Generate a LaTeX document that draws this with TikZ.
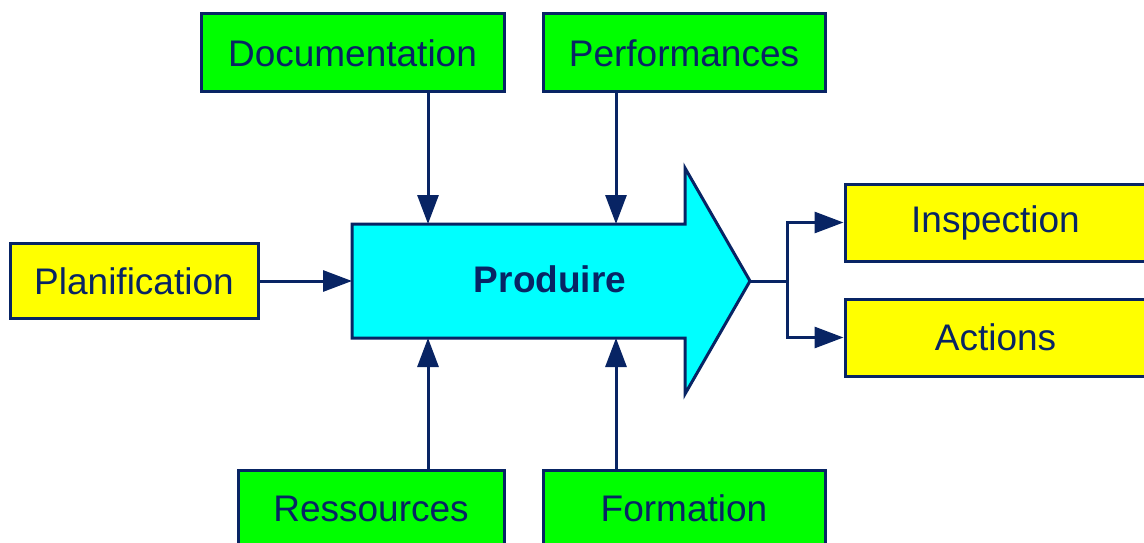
\documentclass[tikz,border=0pt]{standalone}
\usepackage{fontspec}
\setmainfont{Liberation Sans}
\usetikzlibrary{arrows.meta}
\definecolor{navy}{RGB}{8,36,100}
\definecolor{boxgreen}{RGB}{0,255,0}
\definecolor{boxyellow}{RGB}{255,255,0}
\definecolor{prodcyan}{RGB}{0,255,255}
\tikzset{
  base/.style={draw=navy, line width=3pt, rectangle, inner sep=0pt, text=navy,
    font=\fontsize{37}{42}\selectfont},
  gbox/.style={base, fill=boxgreen},
  ybox/.style={base, fill=boxyellow},
  conn/.style={draw=navy, line width=3pt, -{Triangle[length=29pt,width=21pt]}},
  plain/.style={draw=navy, line width=3pt},
}
\begin{document}
\begin{tikzpicture}[x=1pt,y=-1pt]
\useasboundingbox (0,0) rectangle (1144,543);
% main arrow
\draw[plain, fill=prodcyan, line join=miter]
  (352,224) -- (685,224) -- (685,168) -- (750,281) -- (685,394) -- (685,338) -- (352,338) -- cycle;
\node[text=navy, font=\fontsize{37}{42}\selectfont\bfseries] (prod) at (550,279) {Produire};
\coordinate (tip) at (750,281);
\coordinate (dtop) at (428,224);
\coordinate (ptop) at (616,224);
\coordinate (dbot) at (428,338);
\coordinate (pbot) at (616,338);
\coordinate (left) at (352,281);
\coordinate (branch) at (787,281);
% boxes
\node[gbox, minimum width=303, minimum height=78] (doc) at (352.5,53) {Documentation};
\node[gbox, minimum width=282, minimum height=78] (perf) at (684,53) {Performances};
\node[ybox, minimum width=248, minimum height=75] (plan) at (134,281) {Planification};
\node[ybox, minimum width=301, minimum height=77] (insp) at (995.5,222.5) {Inspection};
\node[ybox, minimum width=301, minimum height=77] (act) at (995.5,337.5) {Actions};
\node[gbox, minimum width=266, minimum height=77] (res) at (371,508.5) {Ressources};
\node[gbox, minimum width=282, minimum height=77] (form) at (684,508.5) {Formation};
% connectors
\draw[conn] (doc.south -| dtop) -- (dtop);
\draw[conn] (perf.south -| ptop) -- (ptop);
\draw[conn] (res.north -| dbot) -- (dbot);
\draw[conn] (form.north -| pbot) -- (pbot);
\draw[conn] (plan.east) -- (plan.east -| left);
\draw[plain] (tip) -- (branch);
\draw[conn] (branch) |- (insp.west);
\draw[conn] (branch) |- (act.west);
\end{tikzpicture}
\end{document}
